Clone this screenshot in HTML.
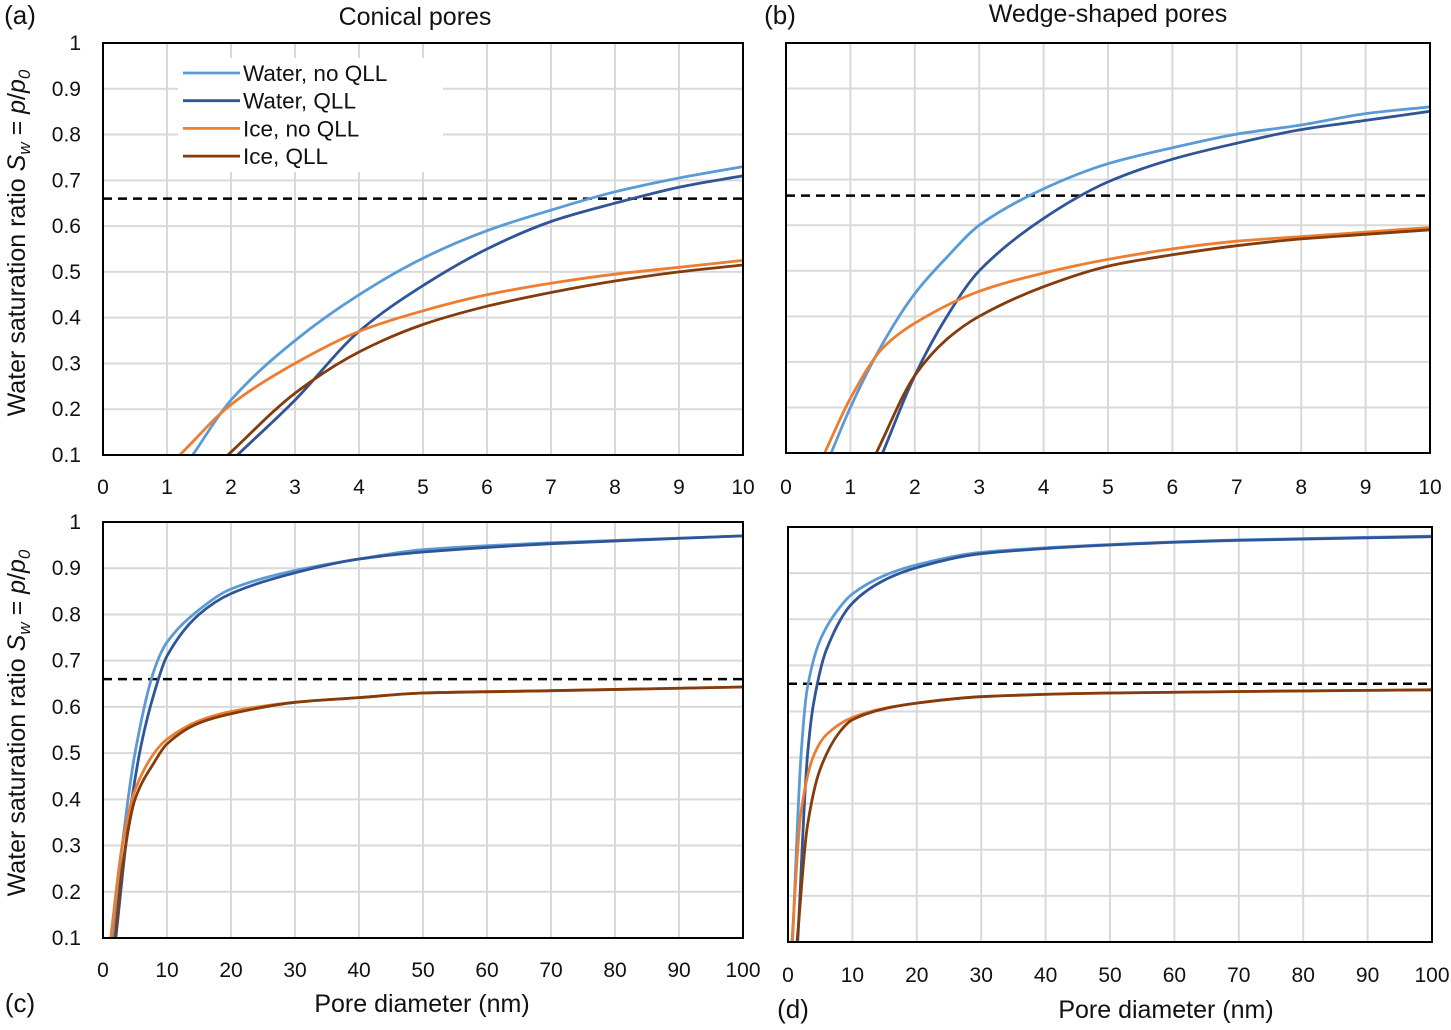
<!DOCTYPE html>
<html><head><meta charset="utf-8"><style>
body{margin:0;background:#fff;}
svg text{font-family:"Liberation Sans",sans-serif;fill:#111;}
</style></head><body>
<svg id="s" width="1451" height="1025" viewBox="0 0 1451 1025" xmlns="http://www.w3.org/2000/svg">
<defs></defs>
</svg>
<script>
const seriesNames=["Water, no QLL","Water, QLL","Ice, no QLL","Ice, QLL"];
const colors=["#5B9BD5","#2F5597","#ED7D31","#843C0C"];
const ticksSmall=[0,1,2,3,4,5,6,7,8,9,10];
const ticksLarge=[0,10,20,30,40,50,60,70,80,90,100];
const yTicks=[0.1,0.2,0.3,0.4,0.5,0.6,0.7,0.8,0.9,1];
// panel (a)
const aWnX=[1.4,2,3,4,5,6,7,8,9,10], aWnY=[0.1,0.22,0.35,0.45,0.53,0.59,0.635,0.675,0.705,0.73];
const aWqX=[2.1,3,4,5,6,7,8,9,10], aWqY=[0.1,0.22,0.37,0.47,0.55,0.61,0.65,0.685,0.71];
const aInX=[1.2,2,3,4,5,6,7,8,9,10], aInY=[0.1,0.21,0.3,0.37,0.415,0.45,0.475,0.495,0.51,0.525];
const aIqX=[1.95,3,4,5,6,7,8,9,10], aIqY=[0.1,0.235,0.325,0.385,0.425,0.455,0.48,0.5,0.515];
const aDash=0.66;
// panel (b)
const bWnX=[0.7,1,1.5,2,2.5,3,4,5,6,7,8,9,10], bWnY=[0.1,0.2,0.34,0.45,0.53,0.6,0.68,0.735,0.77,0.8,0.82,0.845,0.86];
const bWqX=[1.5,2,2.5,3,4,5,6,7,8,9,10], bWqY=[0.1,0.27,0.4,0.5,0.615,0.695,0.745,0.78,0.81,0.83,0.85];
const bInX=[0.6,1,1.5,2,3,4,5,6,7,8,9,10], bInY=[0.1,0.22,0.33,0.385,0.455,0.495,0.525,0.548,0.565,0.575,0.585,0.595];
const bIqX=[1.4,2,2.5,3,4,5,6,7,8,9,10], bIqY=[0.1,0.27,0.35,0.4,0.465,0.51,0.535,0.555,0.57,0.58,0.59];
const bDash=0.665;
// panel (c)
const cWnX=[1.5,3,5,8,10,15,20,30,40,50,70,100], cWnY=[0.1,0.3,0.5,0.68,0.74,0.81,0.855,0.895,0.92,0.94,0.955,0.97];
const cWqX=[2,4,6,8,10,15,20,30,40,50,70,100], cWqY=[0.1,0.35,0.52,0.63,0.71,0.8,0.845,0.89,0.92,0.935,0.953,0.97];
const cInX=[1.2,3,5,8,10,15,20,30,40,50,70,100], cInY=[0.1,0.3,0.42,0.5,0.53,0.57,0.59,0.61,0.62,0.63,0.635,0.643];
const cIqX=[1.9,3,5,8,10,15,20,30,40,50,70,100], cIqY=[0.1,0.25,0.4,0.48,0.52,0.565,0.585,0.61,0.62,0.63,0.635,0.643];
const cDash=0.66;
// panel (d)
const dWnX=[0.7,2,3,5,8,10,15,20,30,50,70,100], dWnY=[0.1,0.5,0.65,0.755,0.825,0.855,0.895,0.918,0.945,0.962,0.972,0.98];
const dWqX=[1.5,3,4,6,10,15,20,30,50,70,100], dWqY=[0.1,0.5,0.62,0.735,0.835,0.885,0.912,0.942,0.961,0.971,0.979];
const dInX=[0.6,2,4,6,10,15,20,30,50,100], dInY=[0.1,0.38,0.505,0.55,0.587,0.607,0.618,0.632,0.64,0.647];
const dIqX=[1.4,3,5,8,10,15,20,30,50,100], dIqY=[0.1,0.35,0.475,0.555,0.582,0.606,0.618,0.632,0.64,0.647];
const dDash=0.66;

const NS="http://www.w3.org/2000/svg";
const svg=document.getElementById('s');
function el(tag,attrs,parent){const e=document.createElementNS(NS,tag);for(const k in attrs)e.setAttribute(k,attrs[k]);(parent||svg).appendChild(e);return e;}
function txt(x,y,s,size,anchor,parent){const t=el('text',{x:x,y:y,'font-size':size,'text-anchor':anchor||'middle'},parent);t.textContent=s;return t;}

// monotone cubic path through pixel points
function smoothPath(px,py){
  const n=px.length;if(n<3)return px.map((x,i)=>(i?'L':'M')+x+','+py[i]).join(' ');
  const d=[],m=[];
  for(let i=0;i<n-1;i++)d.push((py[i+1]-py[i])/(px[i+1]-px[i]));
  m[0]=d[0];m[n-1]=d[n-2];
  for(let i=1;i<n-1;i++){m[i]=(d[i-1]*d[i]<=0)?0:2/(1/d[i-1]+1/d[i]);}
  let s='M'+px[0].toFixed(1)+','+py[0].toFixed(1);
  for(let i=0;i<n-1;i++){const h=px[i+1]-px[i];
    s+=' C'+(px[i]+h/3).toFixed(1)+','+(py[i]+m[i]*h/3).toFixed(1)+' '+(px[i+1]-h/3).toFixed(1)+','+(py[i+1]-m[i+1]*h/3).toFixed(1)+' '+px[i+1].toFixed(1)+','+py[i+1].toFixed(1);}
  return s;
}

function panel(id,L,R,T,B,xmax,xt,series,dash,showY,labY){
  const g=el('g',{});
  
  
  const sx=v=>L+(v/xmax)*(R-L), sy=v=>B-(v-0.1)/0.9*(B-T);
  const cp=el('clipPath',{id:'cp'+id},svg.querySelector('defs'));
  el('rect',{x:L,y:T,width:R-L,height:B-T},cp);
  xt.forEach(v=>{const l=el('line',{x1:sx(v),x2:sx(v),y1:T,y2:B,stroke:'#d9d9d9','stroke-width':2},g);
    
    const t=txt(sx(v),labY,String(v),21,'middle',g);
    });
  yTicks.forEach(v=>{const l=el('line',{x1:L,x2:R,y1:sy(v),y2:sy(v),stroke:'#d9d9d9','stroke-width':2},g);
    
    if(showY){const t=txt(L-22,sy(v)+7,String(v),21,'end',g);
      }});
  const dl=el('line',{x1:L,x2:R,y1:sy(dash),y2:sy(dash),stroke:'#000','stroke-width':2.5,'stroke-dasharray':'9,6'},g);
  
  series.forEach((s,i)=>{const d=smoothPath(s[0].map(sx),s[1].map(sy));
    const p=el('path',{d:d,fill:'none',stroke:colors[i],'stroke-width':2.8,'clip-path':'url(#cp'+id+')','stroke-linejoin':'round'},g);
    
    });
  const fr=el('rect',{x:L,y:T,width:R-L,height:B-T,fill:'none',stroke:'#000','stroke-width':2},g);
  
  return {g,sx,sy};
}
panel('a',103,743,43,455,10,ticksSmall,[[aWnX,aWnY],[aWqX,aWqY],[aInX,aInY],[aIqX,aIqY]],aDash,true,494);
panel('b',786,1430,43,453,10,ticksSmall,[[bWnX,bWnY],[bWqX,bWqY],[bInX,bInY],[bIqX,bIqY]],bDash,false,494);
panel('c',103,743,522,938,100,ticksLarge,[[cWnX,cWnY],[cWqX,cWqY],[cInX,cInY],[cIqX,cIqY]],cDash,true,977);
panel('d',788,1432,527,942,100,ticksLarge,[[dWnX,dWnY],[dWqX,dWqY],[dInX,dInY],[dIqX,dIqY]],dDash,false,982);

// legend
const lg=el('g',{});


el('rect',{x:178,y:58,width:265,height:114,fill:'#fff'},lg);
seriesNames.forEach((n,i)=>{const y=73+i*27.7;
  const l=el('line',{x1:183,x2:240,y1:y,y2:y,stroke:colors[i],'stroke-width':2.8},lg);
  
  const t=txt(243,y+8,n,22.5,'start',lg);
  });

function label(x,y,s,size,name,anchor){const t=txt(x,y,s,size,anchor||'middle');return t;}
label(20,24,'(a)',26,'panel-label-a');
label(780,24,'(b)',26,'panel-label-b');
label(20,1012,'(c)',26,'panel-label-c');
label(793,1018,'(d)',26,'panel-label-d');
label(415,25,'Conical pores',25,'title-conical');
label(1108,22,'Wedge-shaped pores',25,'title-wedge');
label(422,1012,'Pore diameter (nm)',25,'x-axis-title-c');
label(1166,1018,'Pore diameter (nm)',25,'x-axis-title-d');
function ytitle(cy,name){const t=el('text',{x:0,y:0,'font-size':25,'text-anchor':'middle',transform:'translate(25,'+cy+') rotate(-90)'});
  
  t.innerHTML='Water saturation ratio <tspan font-style="italic">S</tspan><tspan font-style="italic" font-size="17" dy="5">w</tspan><tspan dy="-5"> = </tspan><tspan font-style="italic">p</tspan>/<tspan font-style="italic">p</tspan><tspan font-size="17" font-style="italic" dy="5">0</tspan>';}
ytitle(243,'y-axis-title-a');
ytitle(723,'y-axis-title-c');
</script>
</body></html>
